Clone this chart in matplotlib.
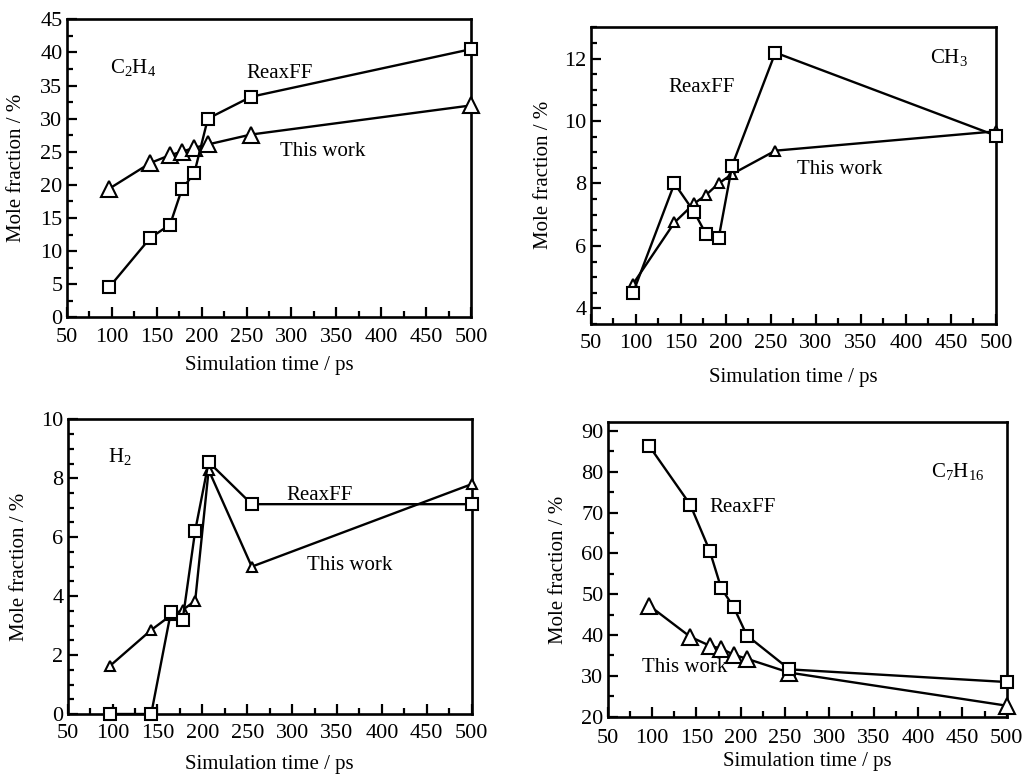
import matplotlib
matplotlib.use("Agg")
import matplotlib.pyplot as plt
from matplotlib.ticker import MultipleLocator

plt.rcParams['font.family'] = ['Liberation Serif', 'DejaVu Serif']
plt.rcParams['mathtext.fontset'] = 'custom'
plt.rcParams['mathtext.rm'] = 'Liberation Serif'
plt.rcParams['mathtext.it'] = 'Liberation Serif:italic'

# ---- data ----
time_ps = [97, 143, 165, 178, 192, 207, 255, 500]

c2h4_reaxff = [4.5, 12.0, 14.0, 19.3, 21.8, 30.0, 33.3, 40.5]
c2h4_this = [19.4, 23.3, 24.5, 25.0, 25.6, 26.1, 27.6, 32.0]

ch3_reaxff = [4.5, 8.0, 7.08, 6.38, 6.24, 8.57, 12.19, 9.53]
ch3_this = [4.78, 6.75, 7.36, 7.63, 8.0, 8.3, 9.05, 9.67]

h2_reaxff = [0.0, 0.0, 3.47, 3.19, 6.22, 8.55, 7.12, 7.12]
h2_this = [1.63, 2.85, 3.35, 3.53, 3.84, 8.28, 5.0, 7.8]

c7h16_reaxff = [86.3, 72.0, 60.7, 51.5, 46.9, 39.9, 31.6, 28.5]
c7h16_this = [47.2, 39.6, 37.4, 36.7, 35.2, 34.2, 30.8, 22.7]

species = ["C$_2$H$_4$", "CH$_3$", "H$_2$", "C$_7$H$_{16}$"]
xlabel = "Simulation time / ps"
ylabel = "Mole fraction / %"
series_names = ["ReaxFF", "This work"]

W, H = 1022, 774
fig = plt.figure(figsize=(W / 100, H / 100), dpi=100)

TICK_FS = 16
LAB_FS = 15


def make_ax(l, r, t, b):
    return fig.add_axes([l / W, 1 - b / H, (r - l) / W, (b - t) / H])


def style(ax, ylim, ymaj, ymin, xpad=7.5):
    ax.set_xlim(50, 500)
    ax.set_ylim(*ylim)
    ax.xaxis.set_major_locator(MultipleLocator(50))
    ax.xaxis.set_minor_locator(MultipleLocator(25))
    ax.yaxis.set_major_locator(MultipleLocator(ymaj))
    ax.yaxis.set_minor_locator(MultipleLocator(ymin))
    ax.tick_params(which='both', direction='in', top=False, right=False,
                   labelsize=TICK_FS, width=1.6)
    ax.tick_params(axis='x', which='major', pad=xpad)
    ax.tick_params(axis='y', which='major', pad=3)
    ax.tick_params(which='major', length=7)
    ax.tick_params(which='minor', length=4)
    for s in ax.spines.values():
        s.set_linewidth(1.9)


def pix_to_axes(ax, px, py):
    bb = ax.get_position()
    fx, fy = px / W, 1 - py / H
    return (fx - bb.x0) / bb.width, (fy - bb.y0) / bb.height


def plot_pair(ax, reax, this, tri_ms):
    ax.plot(time_ps, this, '-', color='black', lw=1.7, marker='^', ms=tri_ms,
            mfc='white', mec='black', mew=1.5, clip_on=False, zorder=3)
    ax.plot(time_ps, reax, '-', color='black', lw=1.7, marker='s', ms=8.5,
            mfc='white', mec='black', mew=1.5, clip_on=False, zorder=4)


def labels(ax, xl_top_px, yl_right_px):
    # xl_top_px: (x centre, y of label top); yl_right_px: (x of label right edge, y centre)
    ax.set_xlabel(xlabel, fontsize=LAB_FS)
    ax.set_ylabel(ylabel, fontsize=LAB_FS)
    ax.xaxis.set_label_coords(*pix_to_axes(ax, *xl_top_px))
    ax.yaxis.set_label_coords(*pix_to_axes(ax, *yl_right_px))


def txt(ax, px, py, s):
    x, y = pix_to_axes(ax, px, py)
    ax.text(x, y, s, transform=ax.transAxes, ha='center', va='center', fontsize=LAB_FS)


# Panel 1: C2H4
ax1 = make_ax(66.7, 471.3, 19.3, 317.3)
style(ax1, (0, 45), 5, 2.5)
plot_pair(ax1, c2h4_reaxff, c2h4_this, 11)
labels(ax1, (269, 356), (26, 168))
txt(ax1, 133, 68, species[0])
txt(ax1, 280, 74, series_names[0])
txt(ax1, 323, 152, series_names[1])

# Panel 2: CH3
ax2 = make_ax(590.7, 996, 27.3, 324)
style(ax2, (3.5, 13), 2, 0.5)
plot_pair(ax2, ch3_reaxff, ch3_this, 7)
labels(ax2, (793, 368), (553, 175))
txt(ax2, 949, 57, species[1])
txt(ax2, 702, 87, series_names[0])
txt(ax2, 840, 170, series_names[1])

# Panel 3: H2
ax3 = make_ax(67.7, 471.7, 419.3, 714)
style(ax3, (0, 10), 2, 0.5)
plot_pair(ax3, h2_reaxff, h2_this, 7)
labels(ax3, (269, 755), (29, 567))
txt(ax3, 120, 456, species[2])
txt(ax3, 320, 496, series_names[0])
txt(ax3, 350, 566, series_names[1])

# Panel 4: C7H16
ax4 = make_ax(607.7, 1006.7, 421.7, 716.7)
style(ax4, (20, 92.3), 10, 5, xpad=8.5)
plot_pair(ax4, c7h16_reaxff, c7h16_this, 11)
labels(ax4, (807, 752), (568, 570))
txt(ax4, 958, 472, species[3])
txt(ax4, 743, 507, series_names[0])
txt(ax4, 685, 667, series_names[1])

fig.savefig("out.png", dpi=100)
